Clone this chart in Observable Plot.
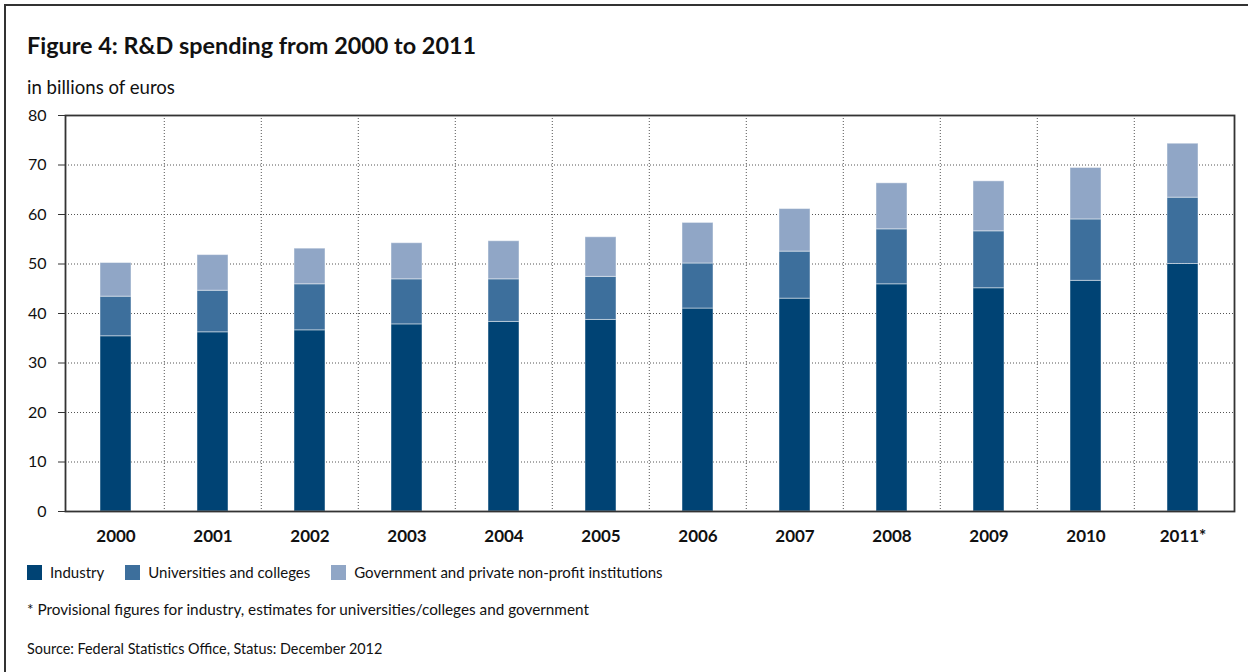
<!DOCTYPE html>
<html>
<head>
<meta charset="utf-8">
<script src="https://cdn.jsdelivr.net/npm/d3@7"></script>
<script src="https://cdn.jsdelivr.net/npm/@observablehq/plot@0.6"></script>
<style>
  html, body { margin: 0; padding: 0; background: #fff; }
  body { width: 1248px; height: 672px; position: relative; overflow: hidden; font-family: Lato, "Open Sans", sans-serif; color: #111; }
  #frame { position: absolute; left: 4px; top: 4px; width: 1260px; height: 700px; border-left: 2px solid #333; border-top: 2px solid #333; }
  #title { position: absolute; left: 27px; top: 30px; font-size: 23.4px; font-weight: bold; line-height: 30px; }
  #subtitle { position: absolute; left: 27px; top: 76px; font-size: 18.6px; line-height: 22px; }
  #chart { position: absolute; left: 0; top: 100px; }
  #legend { position: absolute; left: 27px; top: 563px; font-size: 15px; line-height: 18px; display: flex; }
  .item { display: flex; align-items: center; margin-right: 21px; }
  .sw { width: 15px; height: 15px; margin-right: 8px; }
  #note { position: absolute; left: 27px; top: 600px; font-size: 15.3px; line-height: 18px; }
  #source { position: absolute; left: 27px; top: 640px; font-size: 14.4px; line-height: 18px; }
</style>
</head>
<body>
<div id="frame"></div>
<div id="title"></div>
<div id="subtitle"></div>
<div id="chart"></div>
<div id="legend"></div>
<div id="note"></div>
<div id="source"></div>
<script>
const titleText = "Figure 4: R&D spending from 2000 to 2011";
const subtitleText = "in billions of euros";
const noteText = "* Provisional figures for industry, estimates for universities/colleges and government";
const sourceText = "Source: Federal Statistics Office, Status: December 2012";

const years = ["2000","2001","2002","2003","2004","2005","2006","2007","2008","2009","2010","2011*"];
const seriesNames = ["Industry", "Universities and colleges", "Government and private non-profit institutions"];
const seriesColors = ["#004374", "#3d6f9c", "#90a6c6"];

const industry     = [35.4, 36.2, 36.6, 37.8, 38.3, 38.7, 41.0, 43.0, 45.9, 45.1, 46.6, 50.0];
const universities = [ 8.0,  8.4,  9.3,  9.1,  8.6,  8.7,  9.1,  9.5, 11.1, 11.5, 12.4, 13.4];
const government   = [ 6.8,  7.2,  7.2,  7.3,  7.7,  8.0,  8.2,  8.6,  9.3, 10.1, 10.4, 10.9];

const yTicks = [0, 10, 20, 30, 40, 50, 60, 70, 80];

document.getElementById("title").textContent = titleText;
document.getElementById("subtitle").textContent = subtitleText;
document.getElementById("note").textContent = noteText;
document.getElementById("source").textContent = sourceText;

const seriesValues = [industry, universities, government];
const data = [];
seriesNames.forEach((s, i) => {
  years.forEach((y, j) => data.push({year: y, series: s, value: seriesValues[i][j]}));
});

const W = 1248, mL = 65, mR = 14;
const step = (W - mL - mR) / years.length;

const chart = Plot.plot({
  width: W,
  height: 451,
  marginLeft: mL,
  marginRight: mR,
  marginTop: 15,
  marginBottom: 40,
  style: {fontFamily: "Lato, 'Open Sans', sans-serif", color: "#111", background: "transparent"},
  x: {domain: years, paddingInner: 0.68, paddingOuter: 0.34, label: null},
  y: {domain: [0, 80], ticks: yTicks, label: null},
  color: {domain: seriesNames, range: seriesColors},
  marks: [
    Plot.ruleY(yTicks.filter(t => t > 0 && t < 80), {stroke: "#555", strokeDasharray: "1,2", strokeWidth: 1}),
    Plot.ruleX(years.slice(1), {x: d => d, dx: -step / 2, stroke: "#555", strokeDasharray: "1,2", strokeWidth: 1}),
    Plot.barY(data, Plot.stackY({order: seriesNames}, {x: "year", y: "value", fill: "series", stroke: "#ffffff", strokeOpacity: 0.45, strokeWidth: 1})),
    Plot.frame({stroke: "#333", strokeWidth: 1.8}),
    Plot.axisY({ticks: yTicks, tickSize: 7, tickPadding: 12, fontSize: 16, stroke: "#333", fill: "#111"}),
    Plot.axisX({tickSize: 0, tickPadding: 18, fontSize: 17, fontWeight: "bold", fill: "#111"})
  ]
});
document.getElementById("chart").appendChild(chart);

const legend = document.getElementById("legend");
seriesNames.forEach((s, i) => {
  const item = document.createElement("div");
  item.className = "item";
  const sw = document.createElement("div");
  sw.className = "sw";
  sw.style.background = seriesColors[i];
  const t = document.createElement("span");
  t.textContent = s;
  item.appendChild(sw);
  item.appendChild(t);
  legend.appendChild(item);
});
</script>
</body>
</html>
